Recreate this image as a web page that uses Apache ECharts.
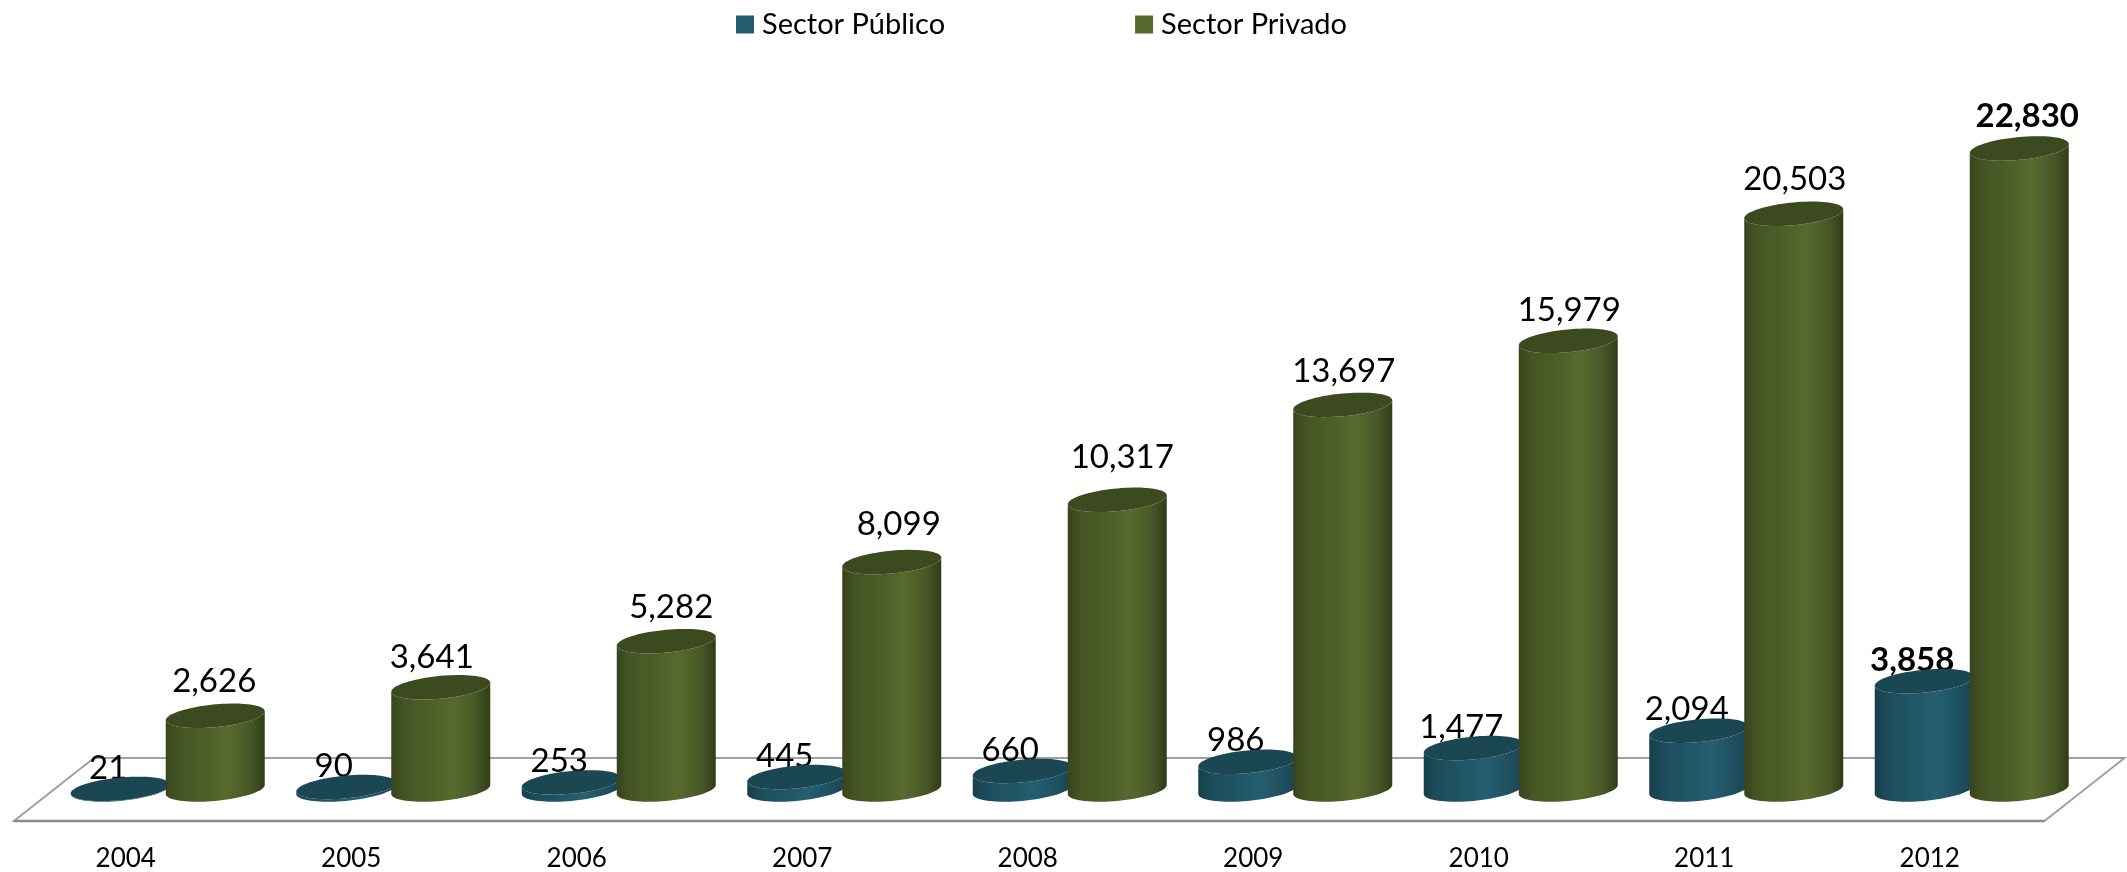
<!DOCTYPE html>
<html>
<head>
<meta charset="utf-8">
<style>html,body{margin:0;padding:0;background:#fff}#c{width:2127px;height:872px}</style>
<script src="https://cdn.jsdelivr.net/npm/echarts@6/dist/echarts.min.js"></script>
</head>
<body>
<div id="c"></div>
<script>
const years = ['2004','2005','2006','2007','2008','2009','2010','2011','2012'];
const publico = [21,90,253,445,660,986,1477,2094,3858];
const privado = [2626,3641,5282,8099,10317,13697,15979,20503,22830];
const nameA = 'Sector Público';
const nameB = 'Sector Privado';

const FONT = 'Lato';
const RX = 49.5, RY = 11.4, TILT = 4.5;
const DEPTH_X = 84, DEPTH_Y = 63;      // floor parallelogram skew
const BLUE_DX = -5.5, GREEN_DX = 89.5; // cylinder centre relative to the category band centre
// the reference's green labels were hand-placed: small per-label shifts
const greenNudgeX = [-1,-9,5,7,5,1,1,1,8];
const greenNudgeY = [1,5,1,-3,-7,1,5,1,3];
const chart = echarts.init(document.getElementById('c'), null, {renderer:'canvas'});

function ring(cx, cy, from, to, n){
  const pts = [];
  for (let i = 0; i <= n; i++){
    const t = from + (to - from) * i / n;
    pts.push([cx + RX * Math.cos(t), cy - TILT * Math.cos(t) + RY * Math.sin(t)]);
  }
  return pts;
}
function grad(stops){ return new echarts.graphic.LinearGradient(0,0,1,0,stops.map(s=>({offset:s[0],color:s[1]}))); }

const palette = {
  blue:{ base:'#235c6d', top:'#1b4753', side:[[0,'#173f4c'],[0.14,'#1d4d5c'],[0.45,'#215868'],[0.62,'#265f71'],[0.85,'#1f5060'],[1,'#1a4351']] },
  green:{ base:'#566a2d', top:'#3d4a20', side:[[0,'#38441c'],[0.14,'#465525'],[0.45,'#4f6029'],[0.62,'#586b2e'],[0.85,'#485727'],[1,'#323c17']] }
};

function cylinder(dx, pal){
  return function(params, api){
    const base = api.coord([api.value(0), 0]);
    const top = api.coord([api.value(0), api.value(1)]);
    const cx = base[0] + dx;
    const by = base[1] - DEPTH_Y / 2;
    const ty = top[1] - DEPTH_Y / 2;
    const sidePts = ring(cx, by, 0, Math.PI, 40).concat(ring(cx, ty, Math.PI, 0, 40));
    return {type:'group', children:[
      {type:'polygon', shape:{points:sidePts}, style:{fill:grad(pal.side)}},
      {type:'polygon', shape:{points:ring(cx, ty, 0, Math.PI*2, 80)}, style:{fill:pal.top}}
    ]};
  };
}
function labels(dx, dy, nudgeX, nudgeY){
  return function(params, api){
    const top = api.coord([api.value(0), api.value(1)]);
    const i = params.dataIndex;
    const last = i === years.length - 1;
    return {type:'text',
      x: top[0] + dx + (nudgeX ? nudgeX[i] : 0),
      y: top[1] - DEPTH_Y / 2 + dy + (nudgeY ? nudgeY[i] : 0),
      style:{text: api.value(1).toLocaleString('en-US'), fill:'#000',
        font:(last?'bold ':'') + '33px ' + FONT, align:'center', verticalAlign:'middle'}};
  };
}
function rows(arr){ return arr.map((v,i)=>[i,v]); }

chart.setOption({
  animation:false,
  backgroundColor:'#fff',
  legend:{
    data:[nameA,nameB], left:731, top:5, icon:'rect',
    itemWidth:18, itemHeight:18, itemGap:190,
    textStyle:{fontFamily:FONT, fontSize:29, color:'#000', padding:[0,0,0,3]}
  },
  grid:{left:13, width:2029.5, top:119, bottom:51},
  xAxis:{type:'category', data:years, axisLine:{show:false}, axisTick:{show:false}, splitLine:{show:false},
    axisLabel:{fontFamily:FONT, fontSize:26, color:'#000', margin:25}},
  yAxis:{type:'value', min:0, max:25000, show:false},
  series:[
    {type:'custom', z:1, silent:true, data:[[0,0]], encode:{x:0,y:1},
      renderItem:function(params, api){
        const g = params.coordSys;
        const y0 = g.y + g.height, x0 = g.x, x1 = g.x + g.width;
        return {type:'group', children:[
          {type:'polygon', shape:{points:[[x0+1,y0],[x1+2,y0],[x1+2+DEPTH_X-4,y0-DEPTH_Y],[x0+1+DEPTH_X-4,y0-DEPTH_Y]]},
            style:{fill:'#fff', stroke:'#a0a0a0', lineWidth:2}},
          {type:'line', shape:{x1:x0+1,y1:y0,x2:x1+2,y2:y0}, style:{stroke:'#8c8c8c', lineWidth:2.5}}
        ]};
      }},
    {type:'custom', z:2, silent:true, data:rows(publico), encode:{x:0,y:1}, renderItem:labels(BLUE_DX-12, -21)},
    {type:'custom', z:2, silent:true, data:rows(privado), encode:{x:0,y:1}, renderItem:labels(GREEN_DX, -35, greenNudgeX, greenNudgeY)},
    {name:nameA, type:'custom', z:3, data:rows(publico), encode:{x:0,y:1}, itemStyle:{color:palette.blue.base}, renderItem:cylinder(BLUE_DX, palette.blue)},
    {name:nameB, type:'custom', z:4, data:rows(privado), encode:{x:0,y:1}, itemStyle:{color:palette.green.base}, renderItem:cylinder(GREEN_DX, palette.green)}
  ]
});
</script>
</body>
</html>
